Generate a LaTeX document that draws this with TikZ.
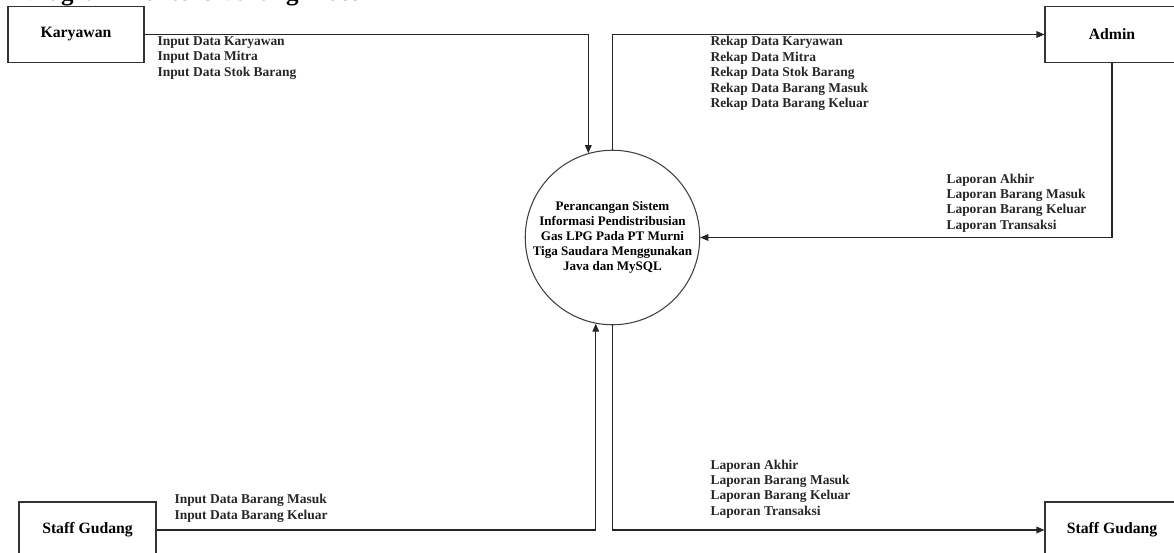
\documentclass[tikz,border=0pt]{standalone}
\usepackage{fontspec}
\setmainfont{Liberation Serif}
\usetikzlibrary{arrows.meta}
\begin{document}
\begin{tikzpicture}[x=0.75pt,y=-0.75pt,
  line width=0.8pt,
  entity/.style={draw=black!80, inner sep=0pt, font=\fontsize{11.8pt}{14pt}\selectfont\bfseries, minimum height=42pt},
  proc/.style={draw=black!75, circle, inner sep=0pt, minimum size=127.5pt, align=center, font=\fontsize{9.8pt}{11.3pt}\selectfont\bfseries},
  flowlabel/.style={anchor=west, inner sep=0pt, align=left, font=\fontsize{10.1pt}{11.6pt}\selectfont\bfseries, text=black!85},
  flow/.style={draw=black!85, -{Triangle[length=6pt,width=5pt]}},
  plain/.style={draw=black!85}]
\useasboundingbox (0,0) rectangle (1174,553);
\node[anchor=base west, inner sep=0pt, font=\fontsize{18.75pt}{22pt}\selectfont\bfseries] (title) at (23,1) {Diagram Konteks Barang Masuk};
\node[entity, minimum width=102pt] (kar) at (76,34.5) {Karyawan};
\node[entity, minimum width=100.5pt] (admin) at (1112,34.5) {Admin};
\node[entity, minimum width=102.75pt] (sg1) at (87.5,530) {Staff Gudang};
\node[entity, minimum width=100.5pt] (sg2) at (1112,530) {Staff Gudang};
\node[proc] (sys) at (612.5,237.5) {Perancangan Sistem\\Informasi Pendistribusian\\Gas LPG Pada PT Murni\\Tiga Saudara Menggunakan\\Java dan MySQL};
\draw[flow] (kar.east) -| (sys.106);
\draw[flow] (sys.north) |- (admin.west);
\draw[flow] (admin.south) |- (sys.east);
\draw[flow] (sg1.east) -| (sys.259);
\draw[flow] (sys.south) |- (sg2.west);
\node[flowlabel] (l1) at (157,58) {Input Data Karyawan\\Input Data Mitra\\Input Data Stok Barang};
\node[flowlabel] (l2) at (710,73.5) {Rekap Data Karyawan\\Rekap Data Mitra\\Rekap Data Stok Barang\\Rekap Data Barang Masuk\\Rekap Data Barang Keluar};
\node[flowlabel] (l3) at (946,203) {Laporan Akhir\\Laporan Barang Masuk\\Laporan Barang Keluar\\Laporan Transaksi};
\node[flowlabel] (l4) at (174,508.5) {Input Data Barang Masuk\\Input Data Barang Keluar};
\node[flowlabel] (l5) at (710,489) {Laporan Akhir\\Laporan Barang Masuk\\Laporan Barang Keluar\\Laporan Transaksi};
\end{tikzpicture}
\end{document}
